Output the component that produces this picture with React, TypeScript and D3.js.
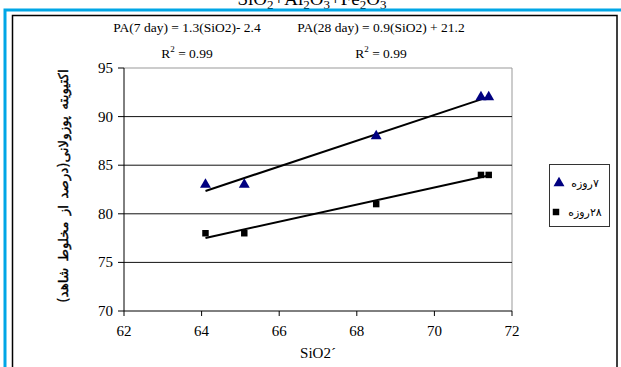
import React from "react";
import * as d3 from "d3";

const silica = [64.1, 65.1, 68.5, 71.2, 71.4];
const pa7 = [83, 83, 88, 92, 92];
const pa28 = [78, 78, 81, 84, 84];
const xTicks = [62, 64, 66, 68, 70, 72];
const yTicks = [70, 75, 80, 85, 90, 95];
const legendLabels = ["۷روزه", "۲۸روزه"];

const W = 621;
const H = 367;
const serif = "Liberation Serif, DejaVu Serif, serif";
const arabic = "DejaVu Sans, sans-serif";

const fit = (xs: number[], ys: number[]) => {
  const mx = d3.mean(xs) as number;
  const my = d3.mean(ys) as number;
  const sxy = d3.sum(xs, (x, i) => (x - mx) * (ys[i] - my));
  const sxx = d3.sum(xs, (x) => (x - mx) * (x - mx));
  const slope = sxy / sxx;
  return { slope, intercept: my - slope * mx };
};

const App = () => {
  const x = d3.scaleLinear().domain([62, 72]).range([124, 512]);
  const y = d3.scaleLinear().domain([70, 95]).range([311, 68]);
  const xMin = d3.min(silica) as number;
  const xMax = d3.max(silica) as number;
  const f7 = fit(silica, pa7);
  const f28 = fit(silica, pa28);
  const tri = d3.symbol().type(d3.symbolTriangle).size(52)();
  const sq = d3.symbol().type(d3.symbolSquare).size(42)();

  const trend = (f: { slope: number; intercept: number }) =>
    d3.line()([
      [x(xMin), y(f.slope * xMin + f.intercept)],
      [x(xMax), y(f.slope * xMax + f.intercept)],
    ]) as string;

  return (
    <svg
      width={W}
      height={H}
      style={{ position: "absolute", left: 0, top: 0, background: "#fff" }}
    >
      {/* title, cut by the top edge as in the source */}
      <text x={312} y={5} textAnchor="middle" fontFamily={serif} fontSize={19}>
        SiO<tspan fontSize={13} dy={4}>2</tspan>
        <tspan dy={-4}>+Al</tspan>
        <tspan fontSize={13} dy={4}>2</tspan>
        <tspan dy={-4}>O</tspan>
        <tspan fontSize={13} dy={4}>3</tspan>
        <tspan dy={-4}>+Fe</tspan>
        <tspan fontSize={13} dy={4}>2</tspan>
        <tspan dy={-4}>O</tspan>
        <tspan fontSize={13} dy={4}>3</tspan>
      </text>
      <rect x={5} y={10} width={W + 10} height={H} fill="none" stroke="#00a6e6" strokeWidth={3} />
      <rect x={12.5} y={15.5} width={604.5} height={H} fill="none" stroke="#000" strokeWidth={1.5} />

      {/* equations */}
      <g fontFamily={serif} fontSize={13.5} textAnchor="middle">
        <text x={187} y={32}>PA(7 day) = 1.3(SiO2)- 2.4</text>
        <text x={381} y={32}>PA(28 day) = 0.9(SiO2) + 21.2</text>
        <text x={187} y={58}>
          R<tspan fontSize={9} dy={-6}>2</tspan>
          <tspan dy={6}> = 0.99</tspan>
        </text>
        <text x={381} y={58}>
          R<tspan fontSize={9} dy={-6}>2</tspan>
          <tspan dy={6}> = 0.99</tspan>
        </text>
      </g>

      {/* plot area */}
      <line x1={124} x2={512} y1={68} y2={68} stroke="#999" />
      <line x1={512} x2={512} y1={68} y2={311} stroke="#999" />
      {yTicks.slice(1, -1).map((t) => (
        <line key={t} x1={124} x2={512} y1={y(t)} y2={y(t)} stroke="#111" />
      ))}
      <line x1={124} x2={124} y1={68} y2={311} stroke="#000" />
      <line x1={124} x2={512} y1={311} y2={311} stroke="#000" />
      {yTicks.map((t) => (
        <g key={t}>
          <line x1={118} x2={124} y1={y(t)} y2={y(t)} stroke="#000" />
          <text x={113} y={y(t) + 5} textAnchor="end" fontFamily={serif} fontSize={15}>
            {t}
          </text>
        </g>
      ))}
      {xTicks.map((t) => (
        <g key={t}>
          <line x1={x(t)} x2={x(t)} y1={311} y2={316} stroke="#000" />
          <text x={x(t)} y={336} textAnchor="middle" fontFamily={serif} fontSize={15}>
            {t}
          </text>
        </g>
      ))}
      <text x={318} y={358} textAnchor="middle" fontFamily={serif} fontSize={15}>
        SiO2´
      </text>
      <text
        transform="translate(63,186) rotate(-90)"
        textAnchor="middle"
        dominantBaseline="central"
        direction="rtl"
        fontFamily={arabic}
        fontSize={13.5}
        wordSpacing={2}
        stroke="#000"
        strokeWidth={0.35}
      >
        اکتیویته پوزولانی(درصد از مخلوط شاهد)
      </text>

      {/* trend lines */}
      <path d={trend(f7)} stroke="#000" strokeWidth={2} fill="none" />
      <path d={trend(f28)} stroke="#000" strokeWidth={2} fill="none" />

      {/* markers */}
      {silica.map((s, i) => (
        <path key={"t" + i} d={tri} transform={`translate(${x(s)},${y(pa7[i])})`} fill="#000080" />
      ))}
      {silica.map((s, i) => (
        <path key={"s" + i} d={sq} transform={`translate(${x(s)},${y(pa28[i])})`} fill="#000" />
      ))}

      {/* legend */}
      <rect x={549.5} y={164.5} width={60} height={62} fill="#fff" stroke="#333" />
      <path d={tri} transform="translate(559,183)" fill="#000080" />
      <path d={sq} transform="translate(556,212)" fill="#000" />
      {legendLabels.map((l, i) => (
        <text
          key={l}
          x={585}
          y={183 + i * 29}
          textAnchor="middle"
          dominantBaseline="central"
          direction="rtl"
          fontFamily={arabic}
          fontSize={11}
        >
          {l}
        </text>
      ))}
    </svg>
  );
};

export default App;
